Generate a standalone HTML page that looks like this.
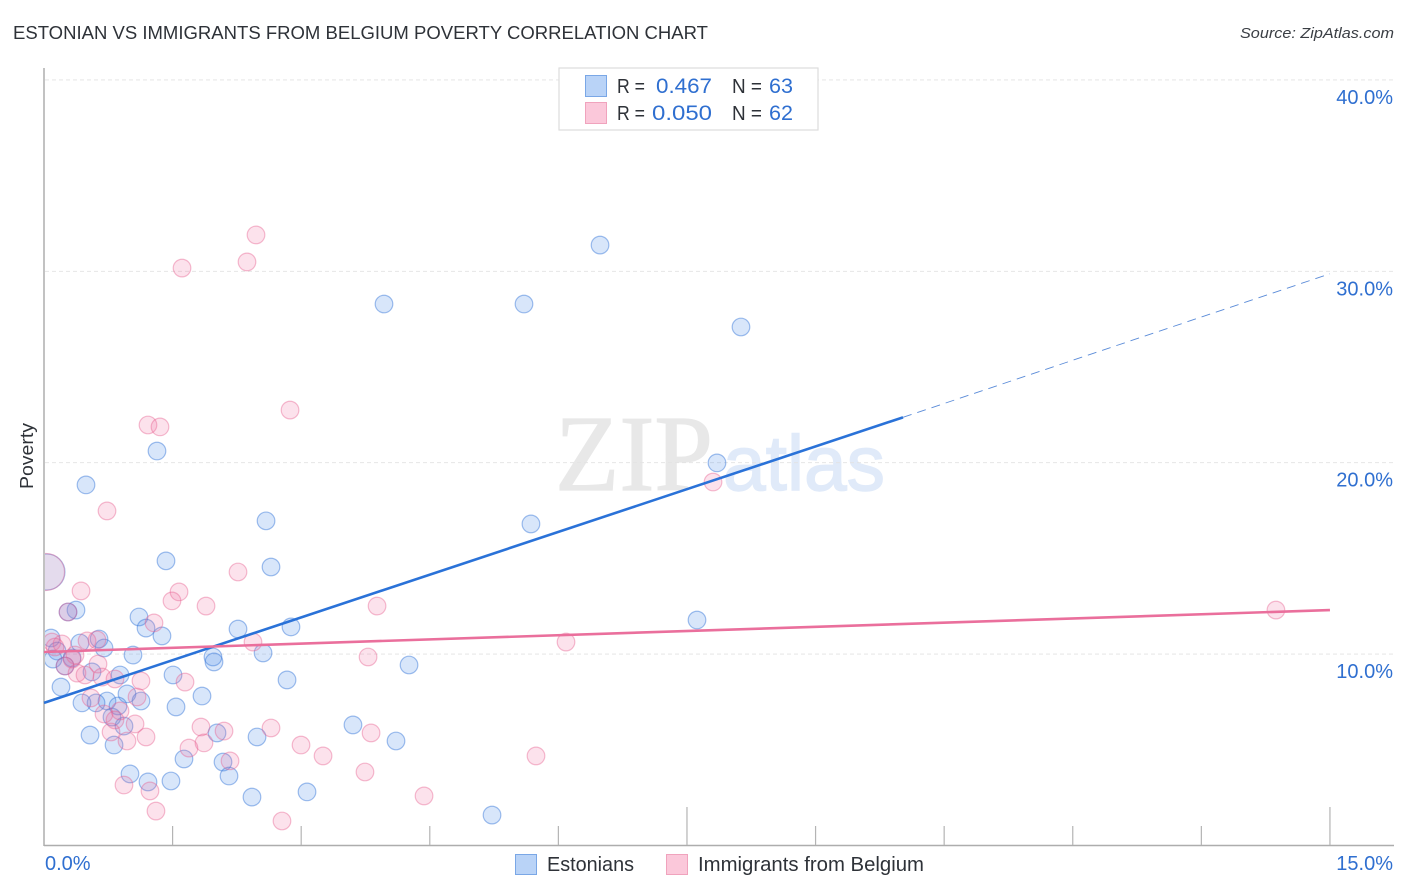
<!DOCTYPE html>
<html lang="en">
<head>
<meta charset="utf-8">
<title>Estonian vs Immigrants from Belgium Poverty Correlation Chart</title>
<style>
  html, body { margin: 0; padding: 0; background: #fff; }
  svg { display: block; font-family: "Liberation Sans", sans-serif; }
</style>
</head>
<body>
<svg id="chart" xmlns="http://www.w3.org/2000/svg" width="1406" height="892" viewBox="0 0 1406 892">
  <rect x="0" y="0" width="1406" height="892" fill="#ffffff"/>
  <text x="13" y="39" font-size="18.5" fill="#2e3238" textLength="695" lengthAdjust="spacingAndGlyphs">ESTONIAN VS IMMIGRANTS FROM BELGIUM POVERTY CORRELATION CHART</text>
  <text x="1394" y="38" font-size="15" font-style="italic" fill="#3a3e44" text-anchor="end" textLength="154" lengthAdjust="spacingAndGlyphs">Source: ZipAtlas.com</text>
  <g>
    <text x="555" y="490" font-family="'Liberation Serif', serif" font-size="108" fill="#e8e8e8" stroke="#e8e8e8" stroke-width="1.2" textLength="158" lengthAdjust="spacingAndGlyphs">ZIP</text>
    <text x="723" y="490" font-family="'Liberation Sans', sans-serif" font-size="78" fill="#e0eaf9" stroke="#e0eaf9" stroke-width="1.4" textLength="162" lengthAdjust="spacingAndGlyphs">atlas</text>
  </g>
  <g id="grid"></g>
  <g id="axes"></g>
  <clipPath id="plot-clip"><rect x="45" y="60" width="1350" height="785"/></clipPath>
  <g id="marks-blue" clip-path="url(#plot-clip)"></g>
  <g id="marks-pink" clip-path="url(#plot-clip)"></g>
  <g id="trends"></g>
  <g id="labels"></g>
  <text transform="translate(33,456) rotate(-90)" font-size="18" fill="#2e3238" text-anchor="middle" textLength="66" lengthAdjust="spacingAndGlyphs">Poverty</text>

  <g font-size="20">
    <rect x="559" y="68" width="259" height="62" fill="#ffffff" stroke="#dddddd" stroke-width="1.2"/>
    <rect x="585.5" y="75.5" width="21" height="21" fill="#b9d3f7" stroke="#7aa7e6" stroke-width="1"/>
    <rect x="585.5" y="102.5" width="21" height="21" fill="#fbc8da" stroke="#f0a3bd" stroke-width="1"/>
    <text x="617" y="93" fill="#2e3238" textLength="28" lengthAdjust="spacingAndGlyphs">R =</text>
    <text x="656" y="93" fill="#2f6fd0" font-size="21.5" textLength="56" lengthAdjust="spacingAndGlyphs">0.467</text>
    <text x="732" y="93" fill="#2e3238" textLength="30" lengthAdjust="spacingAndGlyphs">N =</text>
    <text x="769" y="93" fill="#2f6fd0" font-size="21" textLength="24" lengthAdjust="spacingAndGlyphs">63</text>
    <text x="617" y="120" fill="#2e3238" textLength="28" lengthAdjust="spacingAndGlyphs">R =</text>
    <text x="652" y="120" fill="#2f6fd0" font-size="21.5" textLength="60" lengthAdjust="spacingAndGlyphs">0.050</text>
    <text x="732" y="120" fill="#2e3238" textLength="30" lengthAdjust="spacingAndGlyphs">N =</text>
    <text x="769" y="120" fill="#2f6fd0" font-size="21" textLength="24" lengthAdjust="spacingAndGlyphs">62</text>
  </g>

  <g font-size="20" fill="#2e3238">
    <g>
      <rect x="515.5" y="854.5" width="21" height="20" fill="#b9d3f7" stroke="#7aa7e6" stroke-width="1"/>
      <text x="547" y="871" textLength="87" lengthAdjust="spacingAndGlyphs">Estonians</text>
    </g>
    <g>
      <rect x="666.5" y="854.5" width="21" height="20" fill="#fbc8da" stroke="#f0a3bd" stroke-width="1"/>
      <text x="698" y="871" textLength="226" lengthAdjust="spacingAndGlyphs">Immigrants from Belgium</text>
    </g>
  </g>
</svg>
<script>
// Data (x: percent share axis, y: poverty percent)
const estoniansX = [6.486,3.966,5.599,8.13,1.318,0.49,7.85,2.59,5.68,1.423,2.648,7.617,1.108,0.373,0.28,1.19,1.376,2.263,2.881,0.082,0.642,0.42,0.70,0.152,1.038,0.105,0.327,0.245,1.971,1.983,2.555,4.258,2.835,0.56,0.887,1.505,0.198,1.843,0.968,1.131,0.735,0.607,0.443,0.863,1.54,0.793,0.933,0.537,2.018,2.485,3.604,4.106,0.817,1.633,2.088,1.003,1.213,1.481,2.158,2.426,3.068,5.226];
const estoniansY = [31.37,28.29,28.29,27.09,20.61,18.84,19.99,16.96,16.80,14.87,14.55,11.78,11.94,12.30,12.20,11.36,10.95,11.31,11.42,10.84,10.79,10.58,10.32,10.16,9.95,9.74,9.80,9.38,9.85,9.59,10.06,9.43,8.65,9.07,8.91,8.91,8.28,7.81,7.92,7.55,7.55,7.45,7.45,7.29,7.24,6.71,6.24,5.77,5.88,5.67,6.30,5.46,5.25,4.52,4.36,3.74,3.32,3.37,3.63,2.53,2.80,1.59];
const belgiumX = [2.473,2.368,1.61,2.87,1.213,1.353,0.735,7.804,2.263,0.432,1.575,1.493,1.89,3.885,0.28,1.283,14.37,2.438,6.089,0.502,0.618,0.093,0.21,0.128,0.362,0.327,0.245,3.78,0.63,0.385,0.478,0.677,0.828,1.131,1.645,0.548,1.085,0.887,0.70,0.828,1.062,0.782,0.968,1.19,1.831,2.10,2.648,1.866,1.691,2.998,3.815,2.17,3.255,5.739,3.744,0.933,1.236,1.306,4.433,2.776];
const belgiumY = [31.90,30.49,30.17,22.75,21.97,21.87,17.48,18.99,14.29,13.30,13.25,12.78,12.51,12.51,12.20,11.63,12.30,10.63,10.63,10.69,10.74,10.63,10.53,10.37,9.95,9.74,9.38,9.85,9.48,9.01,8.91,8.80,8.70,8.60,8.54,7.71,7.76,7.03,6.87,6.56,6.35,5.93,5.46,5.67,6.19,5.98,6.14,5.36,5.09,5.25,5.88,4.42,4.68,4.68,3.84,3.16,2.85,1.80,2.59,1.28];
// Large aggregate markers pinned at the left edge of the plot
const bigPointX = [0.035];
const bigPointY = [14.29];
// Trend endpoints: [start x, solid end x, dashed end x] and the y values there
const blueTrendX = [0, 10.02, 15];
const blueTrendY = [7.45, 22.37, 29.87];
const pinkTrendX = [0, 15];
const pinkTrendY = [10.11, 12.30];
const yTicks = [10, 20, 30, 40];
const yTickLabels = ["10.0%", "20.0%", "30.0%", "40.0%"];
const xTicks = [0, 1.5, 3, 4.5, 6, 7.5, 9, 10.5, 12, 13.5, 15];
const xEndLabels = ["0.0%", "15.0%"];

const NS = "http://www.w3.org/2000/svg";
const xScale = v => 44 + v * 85.73;
const yScale = v => 845.5 - v * 19.14;

function make(parent, tag, attrs) {
  const el = document.createElementNS(NS, tag);
  for (const k in attrs) el.setAttribute(k, attrs[k]);
  parent.appendChild(el);
  return el;
}

const grid = document.getElementById("grid");
const axes = document.getElementById("axes");
const labels = document.getElementById("labels");
const blue = document.getElementById("marks-blue");
const pink = document.getElementById("marks-pink");
const trends = document.getElementById("trends");

yTicks.forEach((t, i) => {
  const line = make(grid, "line", {x1: 45, x2: 1394, y1: yScale(t), y2: yScale(t), stroke: "#e2e2e2", "stroke-width": 0.9, "stroke-dasharray": "4 3"});
  
  
  const label = make(labels, "text", {x: 1393, y: yScale(t) + 24, "font-size": 20, fill: "#2f6fd0", "text-anchor": "end"});
  
  
  label.textContent = yTickLabels[i];
});

const yAxis = make(axes, "line", {x1: 44, x2: 44, y1: 68, y2: 846, stroke: "#adadad", "stroke-width": 1.5});


const xAxis = make(axes, "line", {x1: 44, x2: 1394, y1: 845.5, y2: 845.5, stroke: "#adadad", "stroke-width": 1.5});



xTicks.forEach(t => {
  if (t === 0) return;
  const isLong = t === 7.5 || t === 15;
  const tick = make(axes, "line", {x1: xScale(t), x2: xScale(t), y1: isLong ? 807 : 826, y2: 845, stroke: "#b4b4b4", "stroke-width": 1.2});
  
  
});

const xLabelStart = make(labels, "text", {x: 45, y: 870, "font-size": 20, fill: "#2f6fd0"});


xLabelStart.textContent = xEndLabels[0];
const xLabelEnd = make(labels, "text", {x: 1393, y: 870, "font-size": 20, fill: "#2f6fd0", "text-anchor": "end"});


xLabelEnd.textContent = xEndLabels[1];

estoniansX.forEach((x, i) => {
  const dot = make(blue, "circle", {cx: xScale(x), cy: yScale(estoniansY[i]), r: 8.8, fill: "#4d8fe8", "fill-opacity": 0.22, stroke: "#2f72d8", "stroke-opacity": 0.45, "stroke-width": 1.2});
  
  
});
bigPointX.forEach((x, i) => {
  const dot = make(blue, "circle", {cx: xScale(x), cy: yScale(bigPointY[i]), r: 18, fill: "#4d8fe8", "fill-opacity": 0.16, stroke: "#2f72d8", "stroke-opacity": 0.4, "stroke-width": 1.2});
  
  
});
belgiumX.forEach((x, i) => {
  const dot = make(pink, "circle", {cx: xScale(x), cy: yScale(belgiumY[i]), r: 8.8, fill: "#ee6f9e", "fill-opacity": 0.2, stroke: "#e8608f", "stroke-opacity": 0.42, "stroke-width": 1.2});
  
  
});
bigPointX.forEach((x, i) => {
  const dot = make(pink, "circle", {cx: xScale(x) - 1, cy: yScale(bigPointY[i]), r: 18.5, fill: "#ee6f9e", "fill-opacity": 0.14, stroke: "#e8608f", "stroke-opacity": 0.4, "stroke-width": 1.2});
  
  
});

const blueSolid = make(trends, "line", {x1: xScale(blueTrendX[0]), y1: yScale(blueTrendY[0]), x2: xScale(blueTrendX[1]), y2: yScale(blueTrendY[1]), stroke: "#2a72d8", "stroke-width": 2.6});


const blueDash = make(trends, "line", {x1: xScale(blueTrendX[1]), y1: yScale(blueTrendY[1]), x2: xScale(blueTrendX[2]), y2: yScale(blueTrendY[2]), stroke: "#5a8bd8", "stroke-width": 0.9, "stroke-dasharray": "9 6"});


const pinkSolid = make(trends, "line", {x1: xScale(pinkTrendX[0]), y1: yScale(pinkTrendY[0]), x2: xScale(pinkTrendX[1]), y2: yScale(pinkTrendY[1]), stroke: "#ea6f9c", "stroke-width": 2.6});


</script>
</body>
</html>
